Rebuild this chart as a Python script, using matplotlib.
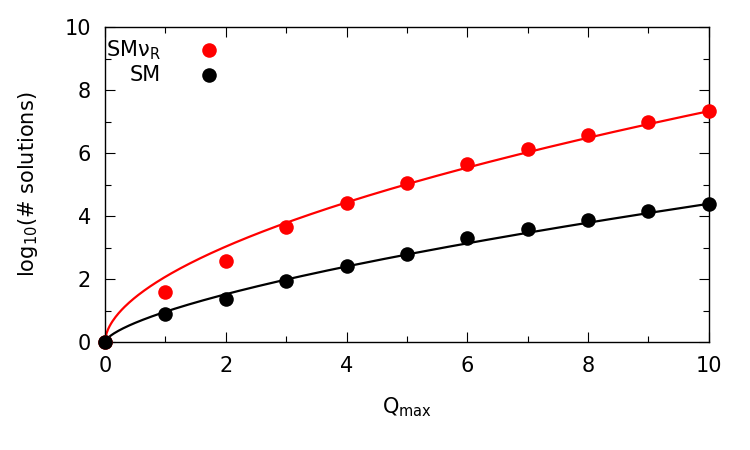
import numpy as np
import matplotlib
matplotlib.use("Agg")
import matplotlib.pyplot as plt
from matplotlib.ticker import MultipleLocator

# data
q_max = [0, 1, 2, 3, 4, 5, 6, 7, 8, 9, 10]
smnr_counts = [0, 1.6, 2.56, 3.65, 4.4, 5.05, 5.65, 6.13, 6.57, 6.98, 7.33]
sm_counts = [0, 0.9, 1.37, 1.93, 2.42, 2.8, 3.3, 3.6, 3.87, 4.15, 4.38]

# power-law fits a * x**b
smnr_fit = (2.07, 0.549)
sm_fit = (0.96, 0.66)

RED = "#ff0000"
BLACK = "#000000"
FS = 15

plt.rcParams["font.family"] = "DejaVu Sans"
fig = plt.figure(figsize=(7.5, 4.5), dpi=100)
ax = fig.add_axes([0.14, 0.24, 0.805, 0.70])

xs = np.linspace(0, 10, 400)
ax.plot(xs, smnr_fit[0] * xs ** smnr_fit[1], color=RED, lw=1.6, zorder=2)
ax.plot(xs, sm_fit[0] * xs ** sm_fit[1], color=BLACK, lw=1.6, zorder=2)
ax.scatter(q_max, smnr_counts, s=110, color=RED, zorder=3, linewidths=0, clip_on=False)
ax.scatter(q_max, sm_counts, s=110, color=BLACK, zorder=4, linewidths=0, clip_on=False)

# legend, gnuplot style: label on the left, marker on the right
ax.text(0.92, 9.27, "SMν$_\\mathrm{R}$", ha="right", va="center", fontsize=FS)
ax.scatter([1.72], [9.27], s=110, color=RED, linewidths=0, zorder=5)
ax.text(0.92, 8.48, "SM", ha="right", va="center", fontsize=FS)
ax.scatter([1.72], [8.48], s=110, color=BLACK, linewidths=0, zorder=5)

ax.set_xlim(0, 10)
ax.set_ylim(0, 10)
ax.xaxis.set_major_locator(MultipleLocator(2))
ax.xaxis.set_minor_locator(MultipleLocator(1))
ax.yaxis.set_major_locator(MultipleLocator(2))
ax.yaxis.set_minor_locator(MultipleLocator(1))
ax.tick_params(which="both", direction="in", top=True, right=True, labelsize=FS, width=0.8)
ax.tick_params(which="major", length=7, pad=10)
ax.tick_params(which="minor", length=4)
for sp in ax.spines.values():
    sp.set_linewidth(1.0)

ax.set_xlabel(r"Q$_{\mathrm{max}}$", fontsize=FS, labelpad=14)
ax.set_ylabel(r"log$_{10}$(# solutions)", fontsize=FS, labelpad=18)

fig.savefig("out.png", dpi=100)
